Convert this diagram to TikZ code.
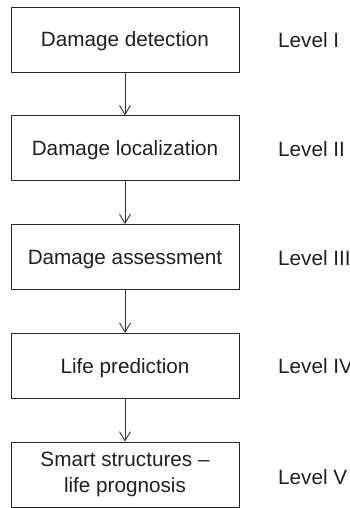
\documentclass[tikz,border=0pt]{standalone}
\usepackage{fontspec}
\setmainfont{Liberation Sans}
\usetikzlibrary{arrows.meta}
\begin{document}
\begin{tikzpicture}[x=1pt,y=1pt,
  stepbox/.style={draw=black!85, line width=0.9pt, minimum width=228pt, minimum height=65pt,
    inner sep=0pt, align=center, font=\fontsize{20.7}{24.5}\selectfont, text=black!88},
  oneline/.style={text height=15pt, text depth=0pt},
  lvl/.style={anchor=west, inner sep=0pt, text height=15pt, text depth=0pt, font=\fontsize{20.7}{24.5}\selectfont, text=black!88},
  conn/.style={draw=black!80, line width=0.9pt, -{Straight Barb[length=9pt,width=11pt,line width=0.9pt]}}]
\useasboundingbox (0,0) rectangle (350,-508);
\node[stepbox,oneline] (b1) at (125,-39.5) {Damage detection};
\node[stepbox,oneline] (b2) at (125,-148.25) {Damage localization};
\node[stepbox,oneline] (b3) at (125,-257) {Damage assessment};
\node[stepbox,oneline] (b4) at (125,-365.75) {Life prediction};
\node[stepbox] (b5) at (125,-474.5) {Smart structures --\\[1pt]life prognosis};
\node[lvl] (l1) at (278,-40) {Level I};
\node[lvl] (l2) at (278,-148.75) {Level II};
\node[lvl] (l3) at (278,-257.5) {Level III};
\node[lvl] (l4) at (278,-366.25) {Level IV};
\node[lvl] (l5) at (278,-477) {Level V};
\draw[conn] (b1) -- (b2);
\draw[conn] (b2) -- (b3);
\draw[conn] (b3) -- (b4);
\draw[conn] (b4) -- (b5);
\end{tikzpicture}
\end{document}
